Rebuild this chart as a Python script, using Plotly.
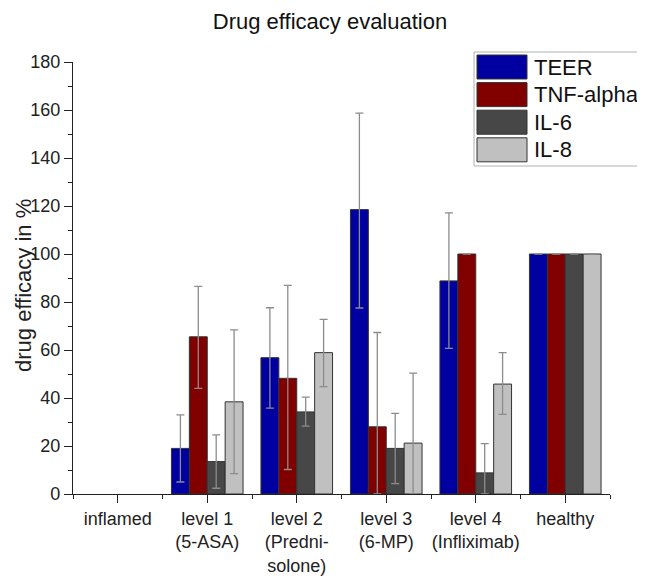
import plotly.graph_objects as go

# ---- data ----
categories = ["inflamed", "level 1<br>(5-ASA)", "level 2<br>(Predni-<br>solone)",
              "level 3<br>(6-MP)", "level 4<br>(Infliximab)", "healthy"]
series_names = ["TEER", "TNF-alpha", "IL-6", "IL-8"]
teer = [None, 19.0, 56.8, 118.5, 88.8, 100]
teer_err_plus = [None, 14.0, 20.8, 40.2, 28.3, None]
teer_err_minus = [None, 14.0, 21.0, 41.0, 28.1, None]
tnf = [None, 65.5, 48.2, 28.0, 100, 100]
tnf_err_plus = [None, 21.0, 38.7, 39.3, None, None]
tnf_err_minus = [None, 21.5, 38.0, 28.0, None, None]
il6 = [None, 13.5, 34.2, 19.0, 8.8, 100]
il6_err_plus = [None, 11.1, 6.2, 14.6, 12.2, None]
il6_err_minus = [None, 11.1, 5.9, 14.7, 8.8, None]
il8 = [None, 38.4, 58.9, 21.2, 45.8, 100]
il8_err_plus = [None, 30.0, 13.9, 29.2, 13.1, None]
il8_err_minus = [None, 29.9, 14.2, 21.2, 12.6, None]
y_ticks = [0, 20, 40, 60, 80, 100, 120, 140, 160, 180]
y_title = "drug efficacy in %"

colors = ["#0000a0", "#800000", "#474747", "#c0c0c0"]
FONT = "'Liberation Sans', Arial, sans-serif"

values = [teer, tnf, il6, il8]
errp = [teer_err_plus, tnf_err_plus, il6_err_plus, il8_err_plus]
errm = [teer_err_minus, tnf_err_minus, il6_err_minus, il8_err_minus]
xpos = list(range(len(categories)))

fig = go.Figure()
for name, vals, ep, em, col in zip(series_names, values, errp, errm, colors):
    fig.add_trace(go.Bar(
        x=xpos, y=vals, name=name,
        marker=dict(color=col, line=dict(color="#333333", width=1)),
        error_y=dict(type="data", symmetric=False, array=ep, arrayminus=em,
                     color="#8c8c8c", thickness=1.3, width=4),
        showlegend=False,
    ))

# ---- layout geometry (pixels); page body has an 8px margin ----
OFF = 8
W, H = 645 - OFF, 576 - OFF
ML, MR, MT, MB = 73 - OFF, 35, 62 - OFF, 82
PW, PH = W - ML - MR, H - MT - MB

def px_x(x):
    return (x - OFF - ML) / PW

def px_y(y):
    return (H - MB - (y - OFF)) / PH

# custom legend with large swatches
shapes = [dict(type="rect", xref="paper", yref="paper",
               x0=px_x(474), x1=px_x(641), y0=px_y(166), y1=px_y(52),
               line=dict(color="#b0b0b0", width=1), fillcolor="white", layer="above")]
annotations = []
for i, (name, col) in enumerate(zip(series_names, colors)):
    top = 55 + i * 27.6
    shapes.append(dict(type="rect", xref="paper", yref="paper",
                       x0=px_x(477), x1=px_x(527), y0=px_y(top + 24), y1=px_y(top),
                       line=dict(color="#333333", width=1), fillcolor=col, layer="above"))
    annotations.append(dict(xref="paper", yref="paper", x=px_x(532), y=px_y(top + 12),
                            text=name, showarrow=False, xanchor="left", yanchor="middle",
                            font=dict(family=FONT, size=22, color="#111111")))

# y-axis title
annotations.append(dict(xref="paper", yref="paper", x=px_x(23), y=px_y(286),
                        text=y_title, textangle=-90, showarrow=False,
                        xanchor="center", yanchor="middle",
                        font=dict(family=FONT, size=22, color="#222222")))

fig.update_layout(
    width=W, height=H,
    margin=dict(l=ML, r=MR, t=MT, b=MB, pad=0, autoexpand=False),
    paper_bgcolor="white", plot_bgcolor="white",
    barmode="group", bargap=0.2, bargroupgap=0,
    font=dict(family=FONT, color="#222222"),
    title=dict(text="Drug efficacy evaluation", x=(330 - OFF) / W, xanchor="center",
               y=1 - 6 / H, yanchor="top", yref="container", pad=dict(t=0, b=0),
               font=dict(family=FONT, size=22, color="#111111")),
    shapes=shapes, annotations=annotations,
    xaxis=dict(range=[-0.5, len(categories) - 0.5], tickmode="array",
               tickvals=xpos, ticktext=categories, automargin=False,
               ticks="outside", ticklen=8, tickwidth=1.2, tickcolor="#222222",
               showline=True, linecolor="#222222", linewidth=1.2,
               showgrid=False, zeroline=False,
               tickfont=dict(family=FONT, size=18, color="#222222"),
               minor=dict(tickmode="array",
                          tickvals=[p - 0.5 for p in xpos] + [xpos[-1] + 0.5],
                          ticks="outside", ticklen=4, tickwidth=1.2, tickcolor="#222222",
                          showgrid=False)),
    yaxis=dict(range=[0, 180], tickmode="array", tickvals=y_ticks, automargin=False,
               ticks="outside", ticklen=8, tickwidth=1.2, tickcolor="#222222",
               showline=True, linecolor="#222222", linewidth=1.2,
               showgrid=False, zeroline=False,
               tickfont=dict(family=FONT, size=18, color="#222222"),
               minor=dict(dtick=10, tick0=0, ticks="outside", ticklen=4,
                          tickwidth=1.2, tickcolor="#222222", showgrid=False)),
)

fig.write_html("out.html")
